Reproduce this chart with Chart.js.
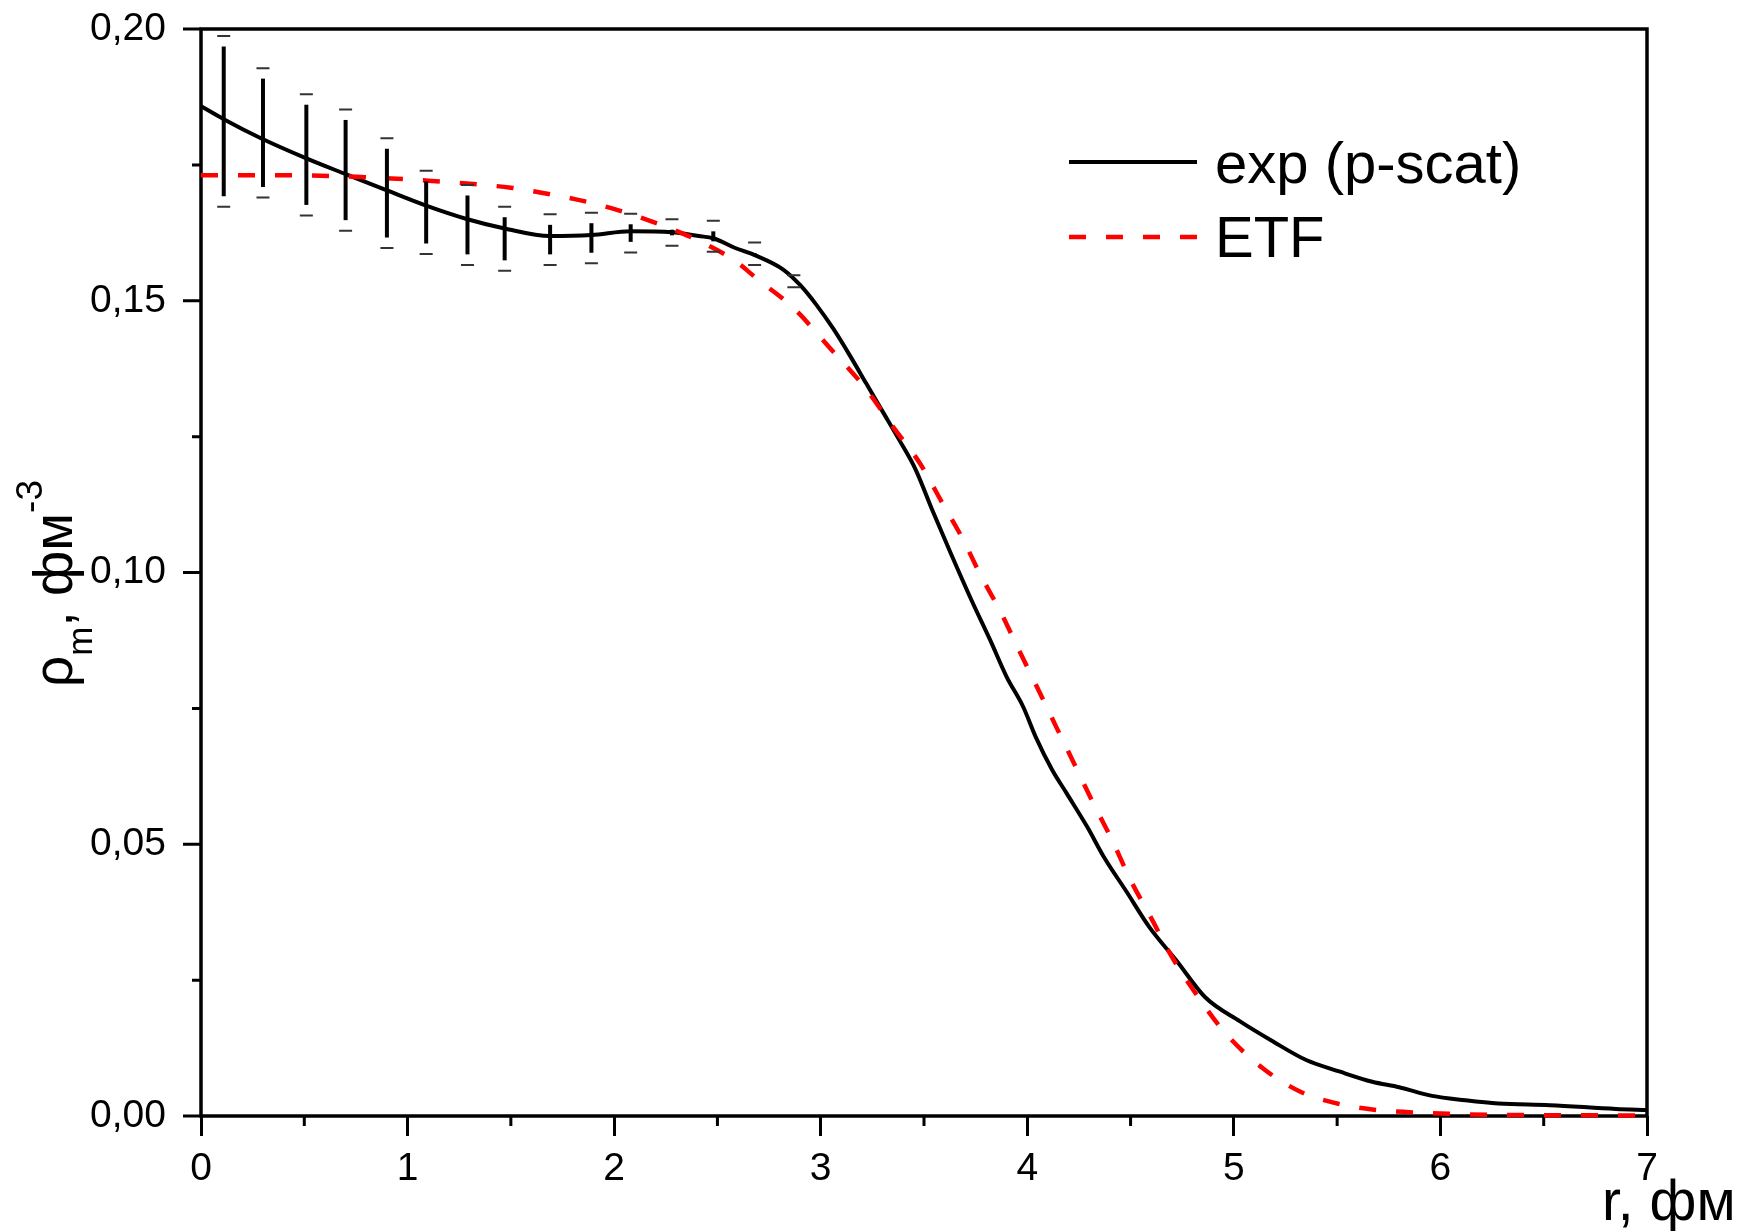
<!DOCTYPE html>
<html>
<head>
<meta charset="utf-8">
<script src="https://cdn.jsdelivr.net/npm/chart.js@4.4.1/dist/chart.umd.min.js"></script>
<style>
  html, body { margin: 0; padding: 0; background: #fff; }
  #wrap { width: 1759px; height: 1231px; }
</style>
</head>
<body>
<div id="wrap"><canvas id="density" width="1759" height="1231"></canvas></div>
<script>
// matter density profile, r in fm, rho in fm^-3
const expR = [0.00, 0.11, 0.29, 0.51, 0.70, 0.90, 1.09, 1.29, 1.47, 1.69, 1.89, 2.08, 2.28, 2.41, 2.48, 2.58, 2.68,
  2.82, 2.90, 2.98, 3.06, 3.14, 3.22, 3.30, 3.38, 3.46, 3.54, 3.63, 3.73, 3.82, 3.90, 3.98, 4.04, 4.12, 4.19,
  4.29, 4.37, 4.48, 4.59, 4.72, 4.86, 5.03, 5.19, 5.35, 5.51, 5.67, 5.80, 5.96, 6.12, 6.28, 6.53, 6.85, 7.00];
const expRho = [0.1858, 0.1834, 0.1799, 0.1762, 0.1733, 0.1703, 0.1675, 0.1650, 0.1633, 0.1619, 0.1621, 0.1628, 0.1626, 0.1619, 0.1615, 0.1598, 0.1584,
  0.1557, 0.1529, 0.1492, 0.1449, 0.1400, 0.1348, 0.1296, 0.1244, 0.1189, 0.1115, 0.1035, 0.0949, 0.0876, 0.0808, 0.0753, 0.0698, 0.0637, 0.0594,
  0.0532, 0.0477, 0.0413, 0.0348, 0.0287, 0.0219, 0.0174, 0.0137, 0.0103, 0.0082, 0.0063, 0.0053, 0.0037, 0.0029, 0.0023, 0.0020, 0.0013, 0.0011];

const etfR = [0.00, 0.37, 0.75, 1.10, 1.34, 1.50, 1.63, 1.81, 1.99, 2.16, 2.33, 2.48, 2.58, 2.69, 2.87, 3.04, 3.21,
  3.35, 3.48, 3.59, 3.69, 3.77, 3.87, 3.96, 4.05, 4.14, 4.23, 4.32, 4.41, 4.50, 4.60, 4.70, 4.82, 4.96, 5.14,
  5.32, 5.50, 5.67, 5.85, 6.04, 6.30, 7.00];
const etfRho = [0.1731, 0.1731, 0.1728, 0.1721, 0.1714, 0.1708, 0.1700, 0.1687, 0.1670, 0.1649, 0.1624, 0.1597, 0.1575, 0.1541, 0.1486, 0.1415, 0.1342,
  0.1268, 0.1201, 0.1127, 0.1060, 0.0998, 0.0928, 0.0857, 0.0787, 0.0716, 0.0646, 0.0575, 0.0508, 0.0434, 0.0364, 0.0293, 0.0223, 0.0152, 0.0088,
  0.0045, 0.0023, 0.0012, 0.0007, 0.0004, 0.0002, 0.0001];

// error bars of the experimental points
const errR = [0.11, 0.30, 0.51, 0.70, 0.90, 1.09, 1.29, 1.47, 1.69, 1.89, 2.08, 2.28, 2.48, 2.68, 2.87];
const errHigh = [0.1987, 0.1928, 0.1880, 0.1852, 0.1799, 0.1739, 0.1713, 0.1673, 0.1659, 0.1662, 0.1660, 0.1650, 0.1647, 0.1607, 0.1547];
const errLow = [0.1673, 0.1690, 0.1657, 0.1629, 0.1597, 0.1586, 0.1566, 0.1555, 0.1566, 0.1569, 0.1589, 0.1601, 0.1590, 0.1566, 0.1525];

const seriesNames = ['exp (p-scat)', 'ETF'];
const xTitle = 'r, фм';

const FONT = "'Liberation Sans', Arial, sans-serif";

function pts(xs, ys) {
  return xs.map((x, i) => ({ x: x, y: ys[i] }));
}

function isMajorX(v) { return Math.abs(v - Math.round(v)) < 1e-6; }
function isMajorY(v) { return Math.round(v / 0.025) % 2 === 0; }

// box around the plot, y ticks and the short minor x ticks
const frame = {
  id: 'frame',
  beforeDatasetsDraw(chart) {
    const { ctx, chartArea: a, scales } = chart;
    ctx.save();
    ctx.strokeStyle = '#000';
    ctx.lineWidth = 3.5;
    ctx.strokeRect(a.left, a.top, a.right - a.left, a.bottom - a.top);

    ctx.lineWidth = 3;
    ctx.beginPath();
    scales.x.ticks.forEach(t => {
      if (isMajorX(t.value)) return;
      const px = scales.x.getPixelForValue(t.value);
      ctx.moveTo(px, a.bottom);
      ctx.lineTo(px, a.bottom + 10);
    });
    scales.y.ticks.forEach(t => {
      const py = scales.y.getPixelForValue(t.value);
      ctx.moveTo(a.left, py);
      ctx.lineTo(a.left - (isMajorY(t.value) ? 18 : 9), py);
    });
    ctx.stroke();
    ctx.restore();
  }
};

const errorBars = {
  id: 'errorBars',
  afterDatasetsDraw(chart) {
    const { ctx, scales } = chart;
    const gap = 10.5;
    ctx.save();
    errR.forEach((r, i) => {
      const px = scales.x.getPixelForValue(r);
      const top = scales.y.getPixelForValue(errHigh[i]);
      const bot = scales.y.getPixelForValue(errLow[i]);
      if (bot - top > 2 * gap) {
        ctx.strokeStyle = '#000';
        ctx.lineWidth = 4;
        ctx.beginPath();
        ctx.moveTo(px, top + gap);
        ctx.lineTo(px, bot - gap);
        ctx.stroke();
      }
      ctx.strokeStyle = '#333';
      ctx.lineWidth = 2;
      ctx.beginPath();
      ctx.moveTo(px - 6.5, top);
      ctx.lineTo(px + 6.5, top);
      ctx.moveTo(px - 6.5, bot);
      ctx.lineTo(px + 6.5, bot);
      ctx.stroke();
    });
    ctx.restore();
  }
};

// legend and axis titles
const labels = {
  id: 'labels',
  afterDraw(chart) {
    const ctx = chart.ctx;
    ctx.save();
    ctx.fillStyle = '#000';
    ctx.textAlign = 'left';
    ctx.textBaseline = 'alphabetic';

    const rows = [
      { ds: chart.data.datasets[1], y: 162, base: 183 },
      { ds: chart.data.datasets[0], y: 237, base: 257 }
    ];
    rows.forEach(row => {
      ctx.save();
      ctx.strokeStyle = row.ds.borderColor;
      ctx.lineWidth = row.ds.borderWidth;
      ctx.setLineDash(row.ds.borderDash || []);
      ctx.beginPath();
      ctx.moveTo(1069, row.y);
      ctx.lineTo(1197, row.y);
      ctx.stroke();
      ctx.restore();
      ctx.font = '58px ' + FONT;
      ctx.fillText(row.ds.label, 1215, row.base);
    });

    ctx.font = '57px ' + FONT;
    ctx.fillText(xTitle, 1602, 1220);

    ctx.translate(72, 687);
    ctx.rotate(-Math.PI / 2);
    const parts = [
      { t: 'ρ', size: 55, dy: 0 },
      { t: 'm', size: 35, dy: 20 },
      { t: ', фм', size: 55, dy: 0 },
      { t: '-3', size: 37, dy: -30 }
    ];
    let x = 0;
    parts.forEach(p => {
      ctx.font = p.size + 'px ' + FONT;
      ctx.fillText(p.t, x, p.dy);
      x += ctx.measureText(p.t).width;
    });
    ctx.restore();
  }
};

new Chart(document.getElementById('density'), {
  type: 'line',
  data: {
    datasets: [
      {
        label: seriesNames[1],
        data: pts(etfR, etfRho),
        borderColor: '#ff0000',
        borderWidth: 4.5,
        borderDash: [17, 20],
        pointRadius: 0,
        cubicInterpolationMode: 'monotone',
        fill: false,
        clip: 8,
        order: 0
      },
      {
        label: seriesNames[0],
        data: pts(expR, expRho),
        borderColor: '#000000',
        borderWidth: 4,
        pointRadius: 0,
        cubicInterpolationMode: 'monotone',
        fill: false,
        clip: 8,
        order: 1
      }
    ]
  },
  options: {
    responsive: false,
    animation: false,
    events: [],
    layout: { padding: { left: 0, top: 29, right: 112, bottom: 0 } },
    plugins: {
      legend: { display: false },
      tooltip: { enabled: false }
    },
    scales: {
      x: {
        type: 'linear',
        min: 0,
        max: 7,
        afterFit: s => { s.height = 115; },
        border: { display: false },
        grid: {
          drawOnChartArea: false,
          tickLength: 20,
          tickWidth: 3,
          tickColor: c => (c.tick && isMajorX(c.tick.value)) ? '#000' : 'rgba(0,0,0,0)'
        },
        ticks: {
          stepSize: 0.5,
          padding: 10,
          color: '#000',
          maxRotation: 0,
          autoSkip: false,
          font: { family: FONT, size: 39 },
          callback: v => isMajorX(v) ? String(Math.round(v)) : ''
        }
      },
      y: {
        min: 0,
        max: 0.2,
        afterFit: s => { s.width = 201; },
        border: { display: false },
        grid: {
          drawOnChartArea: false,
          tickLength: 35,
          tickColor: 'rgba(0,0,0,0)'
        },
        ticks: {
          stepSize: 0.025,
          padding: 0,
          color: '#000',
          autoSkip: false,
          font: { family: FONT, size: 39 },
          callback: v => isMajorY(v) ? v.toFixed(2).replace('.', ',') : ''
        }
      }
    }
  },
  plugins: [frame, errorBars, labels]
});
</script>
</body>
</html>
